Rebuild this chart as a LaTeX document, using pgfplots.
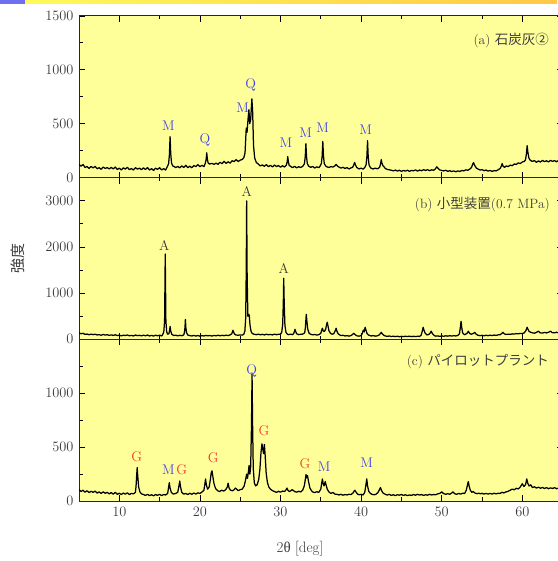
\documentclass[border=0pt]{standalone}
\usepackage{pgfplots}
\pgfplotsset{compat=1.18}
\usepackage{fontspec}
\newfontfamily\cjk{Noto Sans CJK JP}
\newfontfamily\lserif{Liberation Serif}
\definecolor{bgyellow}{RGB}{255,255,153}
\definecolor{mblue}{RGB}{65,65,235}
\definecolor{gred}{RGB}{240,60,45}
\definecolor{agray}{RGB}{55,55,55}
\definecolor{tgray}{RGB}{60,60,60}
\definecolor{barblue}{RGB}{110,110,240}
\definecolor{baryel}{RGB}{255,250,90}
\definecolor{barorg}{RGB}{255,200,70}
\tikzset{
  mlab/.style={text=mblue, font=\fontsize{14}{16}\selectfont, inner sep=0pt},
  glab/.style={text=gred, font=\fontsize{14}{16}\selectfont, inner sep=0pt},
  alab/.style={text=agray, font=\fontsize{14}{16}\selectfont, inner sep=0pt},
  ttl/.style={text=tgray, anchor=east, inner sep=0pt, font=\fontsize{13.5}{16}\selectfont},
  xrdline/.style={black, mark=none, line width=1.25pt, line join=round},
}
\pgfplotsset{
  /pgf/number format/1000 sep={},
  xrd/.style={
    scale only axis, width=483.6pt, height=161.7pt,
    xmin=5, xmax=65,
    axis background/.style={fill=bgyellow},
    tick align=inside,
    xtick={10,20,...,60}, minor xtick={5,15,...,65},
    major tick length=6pt, minor tick length=3.5pt,
    tick style={line width=0.7pt, black},
    axis line style={line width=0.9pt, black!85},
    ticklabel style={font=\fontsize{14}{16}\selectfont, text=tgray},
    yticklabel style={xshift=-2pt},
    xticklabel style={yshift=-3pt},
    scaled y ticks=false,
  },
}
\begin{document}
\begin{tikzpicture}
% decorative bar
\fill[barblue] (0pt,557pt) rectangle (25pt,561pt);
\shade[left color=baryel, right color=barorg] (25pt,557pt) rectangle (557pt,561pt);

% (a)
\begin{axis}[xrd, at={(79pt,383.4pt)}, ymin=0, ymax=1500,
  ytick={0,500,1000,1500}, minor ytick={250,750,1250}, xticklabels={}]
\addplot[xrdline] coordinates {(5.00,124)(5.25,106)(5.50,121)(5.75,94)(6.00,103)(6.25,85)(6.50,103)(6.75,90)(7.00,104)(7.25,82)(7.50,92)(7.75,77)(8.00,98)(8.25,85)(8.50,93)(8.75,80)(9.00,95)(9.25,80)(9.50,98)(9.75,75)(10.00,87)(10.25,71)(10.50,91)(10.75,79)(11.00,95)(11.25,74)(11.50,84)(11.75,70)(12.00,92)(12.25,79)(12.50,87)(12.75,74)(13.00,90)(13.25,75)(13.50,93)(13.75,70)(14.00,83)(14.25,67)(14.50,87)(14.75,76)(15.00,92)(15.25,71)(15.50,83)(15.75,70)(15.95,100)(16.12,129)(16.22,218)(16.30,380)(16.38,222)(16.48,135)(16.65,106)(16.75,105)(17.00,93)(17.25,103)(17.50,91)(17.75,108)(18.00,94)(18.25,114)(18.50,92)(18.75,106)(19.00,91)(19.25,112)(19.50,102)(19.75,120)(20.00,101)(20.25,114)(20.50,102)(20.67,133)(20.77,167)(20.85,230)(20.93,168)(21.03,135)(21.20,126)(21.50,132)(21.75,122)(22.00,134)(22.25,123)(22.50,142)(22.75,129)(23.00,151)(23.25,131)(23.50,147)(23.75,134)(24.00,157)(24.25,148)(24.50,167)(24.75,149)(25.00,162)(25.25,168)(25.45,185)(25.60,230)(25.75,460)(25.85,420)(25.97,540)(26.08,630)(26.18,500)(26.30,540)(26.45,731)(26.55,600)(26.65,300)(26.80,180)(27.00,140)(27.25,125)(27.50,108)(27.75,118)(28.00,104)(28.25,121)(28.50,101)(28.75,114)(29.00,99)(29.25,117)(29.50,103)(29.75,112)(30.00,96)(30.25,110)(30.50,98)(30.72,115)(30.82,143)(30.90,195)(30.98,143)(31.08,113)(31.25,104)(31.50,92)(31.75,105)(32.00,90)(32.25,101)(32.50,94)(32.75,104)(32.97,128)(33.07,194)(33.15,315)(33.23,194)(33.33,128)(33.50,106)(33.75,95)(34.00,103)(34.25,89)(34.50,100)(34.75,92)(34.90,105)(35.07,130)(35.17,202)(35.25,335)(35.33,200)(35.43,130)(35.60,108)(35.75,100)(36.00,94)(36.25,102)(36.50,98)(36.70,106)(36.90,122)(37.10,105)(37.25,98)(37.50,88)(37.75,96)(38.00,84)(38.25,93)(38.50,80)(38.75,90)(38.95,95)(39.10,120)(39.20,140)(39.30,118)(39.45,94)(39.75,80)(40.00,88)(40.25,78)(40.45,93)(40.62,120)(40.72,198)(40.80,343)(40.88,196)(40.98,120)(41.15,94)(41.25,86)(41.50,80)(41.75,88)(42.00,82)(42.15,86)(42.32,100)(42.42,130)(42.50,167)(42.58,135)(42.70,112)(42.90,95)(43.00,84)(43.25,76)(43.50,72)(43.75,68)(44.00,62)(44.25,70)(44.50,60)(44.75,68)(45.00,58)(45.25,66)(45.50,60)(45.75,69)(46.00,57)(46.25,67)(46.50,62)(46.75,72)(47.00,60)(47.25,70)(47.50,64)(47.75,73)(48.00,66)(48.25,74)(48.50,64)(48.75,72)(49.00,68)(49.20,80)(49.40,100)(49.55,86)(49.75,72)(50.00,66)(50.25,62)(50.50,68)(50.75,58)(51.00,64)(51.25,56)(51.50,62)(51.75,54)(52.00,62)(52.25,57)(52.50,66)(52.75,62)(53.00,72)(53.25,68)(53.50,80)(53.70,95)(53.85,125)(53.95,139)(54.10,112)(54.30,88)(54.50,80)(54.75,70)(55.00,74)(55.25,64)(55.50,70)(55.75,60)(56.00,66)(56.25,58)(56.50,64)(56.75,62)(57.00,72)(57.25,85)(57.42,110)(57.50,130)(57.62,105)(57.80,95)(58.00,108)(58.25,102)(58.50,116)(58.75,110)(59.00,126)(59.25,122)(59.50,136)(59.75,130)(60.00,145)(60.25,150)(60.40,165)(60.50,215)(60.60,296)(60.70,230)(60.82,180)(61.00,160)(61.25,150)(61.50,158)(61.75,142)(62.00,155)(62.25,144)(62.50,160)(62.75,148)(63.00,156)(63.25,145)(63.50,160)(63.75,150)(64.00,158)(64.25,146)(64.50,160)(64.75,150)(65.00,156)};
\node[mlab] at (axis cs:16.1,481) {M};
\node[mlab] at (axis cs:20.63,345) {Q};
\node[mlab] at (axis cs:25.3,645) {M};
\node[mlab] at (axis cs:26.3,861) {Q};
\node[mlab] at (axis cs:30.68,327) {M};
\node[mlab] at (axis cs:33.12,420) {M};
\node[mlab] at (axis cs:35.23,460) {M};
\node[mlab] at (axis cs:40.57,444) {M};
\node[ttl] at (rel axis cs:0.972,0.846) {(a) {\cjk 石炭灰②}};
\end{axis}

% (b)
\begin{axis}[xrd, at={(79pt,221.7pt)}, ymin=0, ymax=3500,
  ytick={0,1000,2000,3000}, minor ytick={500,1500,2500}, xticklabels={},
  ylabel={\cjk 強度},
  ylabel style={at={(axis description cs:-0.126,0.5)}, anchor=center, font=\fontsize{15}{17}\selectfont, text=tgray}]
\addplot[xrdline] coordinates {(5.00,138)(5.25,120)(5.50,130)(5.75,106)(6.00,113)(6.25,98)(6.50,112)(6.75,100)(7.00,110)(7.25,94)(7.50,100)(7.75,88)(8.00,104)(8.25,92)(8.50,99)(8.75,86)(9.00,96)(9.25,84)(9.50,98)(9.75,80)(10.00,88)(10.25,74)(10.50,90)(10.75,81)(11.00,93)(11.25,76)(11.50,84)(11.75,73)(12.00,92)(12.25,79)(12.50,86)(12.75,74)(13.00,90)(13.25,76)(13.50,92)(13.75,72)(14.00,84)(14.25,70)(14.50,88)(14.75,76)(15.00,90)(15.25,72)(15.35,90)(15.52,160)(15.62,400)(15.70,1845)(15.78,400)(15.88,160)(16.00,110)(16.15,120)(16.24,190)(16.30,280)(16.38,180)(16.50,110)(16.75,82)(17.00,88)(17.25,74)(17.50,86)(17.75,78)(18.00,95)(18.08,150)(18.15,260)(18.20,430)(18.26,250)(18.35,140)(18.50,92)(18.75,80)(19.00,72)(19.25,84)(19.50,70)(19.75,82)(20.00,68)(20.25,80)(20.50,72)(20.75,85)(21.00,74)(21.25,82)(21.50,70)(21.75,84)(22.00,75)(22.25,88)(22.50,76)(22.75,86)(23.00,78)(23.25,90)(23.50,80)(23.75,95)(23.95,120)(24.05,165)(24.10,195)(24.18,160)(24.30,110)(24.50,92)(24.75,88)(25.00,95)(25.25,90)(25.45,110)(25.58,180)(25.68,450)(25.75,1500)(25.80,2995)(25.86,1400)(25.95,500)(26.05,540)(26.12,520)(26.22,300)(26.35,170)(26.50,125)(26.75,108)(27.00,100)(27.25,112)(27.50,96)(27.75,108)(28.00,94)(28.25,110)(28.50,98)(28.75,106)(29.00,95)(29.25,112)(29.50,100)(29.75,108)(30.00,110)(30.15,150)(30.27,320)(30.35,800)(30.40,1320)(30.46,780)(30.55,300)(30.68,150)(30.85,110)(31.00,100)(31.25,112)(31.50,100)(31.65,130)(31.75,185)(31.80,215)(31.88,170)(32.00,120)(32.25,100)(32.50,108)(32.75,112)(33.00,140)(33.08,240)(33.15,420)(33.20,540)(33.27,400)(33.38,220)(33.55,130)(33.75,108)(34.00,96)(34.25,104)(34.50,92)(34.75,100)(35.00,130)(35.10,190)(35.20,240)(35.30,180)(35.45,170)(35.60,220)(35.72,320)(35.80,370)(35.88,300)(36.00,190)(36.20,130)(36.40,110)(36.60,120)(36.78,180)(36.90,240)(37.00,175)(37.15,120)(37.35,95)(37.50,80)(37.75,88)(38.00,72)(38.25,80)(38.50,68)(38.75,82)(38.95,105)(39.10,130)(39.25,100)(39.50,74)(39.75,68)(40.00,80)(40.15,130)(40.28,200)(40.38,160)(40.50,260)(40.60,200)(40.75,120)(40.95,90)(41.25,72)(41.50,80)(41.75,68)(42.00,75)(42.25,95)(42.40,125)(42.50,150)(42.62,118)(42.80,90)(43.00,72)(43.25,64)(43.50,72)(43.75,60)(44.00,68)(44.25,58)(44.50,66)(44.75,56)(45.00,64)(45.25,58)(45.50,66)(45.75,60)(46.00,68)(46.25,57)(46.50,65)(46.75,58)(47.00,66)(47.25,62)(47.45,90)(47.58,170)(47.70,260)(47.80,200)(47.95,130)(48.15,95)(48.35,100)(48.55,130)(48.70,175)(48.85,120)(49.05,85)(49.25,68)(49.50,74)(49.75,64)(50.00,72)(50.25,66)(50.50,76)(50.75,68)(51.00,78)(51.25,70)(51.50,80)(51.75,72)(52.00,84)(52.20,120)(52.30,240)(52.40,390)(52.48,260)(52.60,140)(52.80,100)(53.00,110)(53.18,140)(53.30,175)(53.45,130)(53.65,110)(53.85,120)(54.00,135)(54.10,150)(54.25,115)(54.45,90)(54.75,78)(55.00,86)(55.25,76)(55.50,88)(55.75,78)(56.00,90)(56.25,80)(56.50,92)(56.75,84)(57.00,96)(57.25,100)(57.45,125)(57.60,150)(57.75,120)(57.95,105)(58.25,112)(58.50,106)(58.75,118)(59.00,112)(59.25,124)(59.50,118)(59.75,128)(60.00,125)(60.25,140)(60.45,190)(60.60,260)(60.72,210)(60.85,170)(61.05,150)(61.25,140)(61.50,132)(61.75,150)(62.00,175)(62.20,140)(62.50,135)(62.75,150)(63.00,138)(63.25,152)(63.50,175)(63.70,145)(64.00,140)(64.25,152)(64.50,138)(64.75,150)(65.00,142)};
\node[alab] at (axis cs:15.59,2040) {A};
\node[alab] at (axis cs:25.8,3197) {A};
\node[alab] at (axis cs:30.4,1534) {A};
\node[ttl] at (rel axis cs:0.974,0.832) {(b) {\cjk 小型装置}(0.7 MPa)};
\end{axis}

% (c)
\begin{axis}[xrd, at={(79pt,60pt)}, ymin=0, ymax=1500,
  ytick={0,500,1000}, minor ytick={250,750,1250,1500},
  xlabel={2{\lserif θ} [deg]},
  xlabel style={at={(axis description cs:0.457,-0.297)}, anchor=center, font=\fontsize{15}{17}\selectfont, text=tgray}]
\addplot[xrdline] coordinates {(5.00,105)(5.25,88)(5.50,100)(5.75,82)(6.00,95)(6.25,78)(6.50,90)(6.75,80)(7.00,92)(7.25,74)(7.50,84)(7.75,70)(8.00,85)(8.25,72)(8.50,80)(8.75,66)(9.00,78)(9.25,64)(9.50,80)(9.75,62)(10.00,72)(10.25,60)(10.50,74)(10.75,63)(11.00,76)(11.25,60)(11.50,70)(11.75,66)(12.00,80)(12.08,140)(12.15,230)(12.22,310)(12.30,220)(12.40,130)(12.55,85)(12.75,66)(13.00,60)(13.25,52)(13.50,62)(13.75,50)(14.00,58)(14.25,48)(14.50,60)(14.75,52)(15.00,62)(15.25,50)(15.50,60)(15.75,56)(16.00,70)(16.10,120)(16.20,170)(16.30,120)(16.45,80)(16.70,64)(17.00,70)(17.25,80)(17.40,140)(17.50,185)(17.60,130)(17.75,80)(18.00,64)(18.25,70)(18.50,60)(18.75,72)(19.00,62)(19.25,74)(19.50,64)(19.75,76)(20.00,70)(20.25,82)(20.50,100)(20.62,160)(20.70,205)(20.80,150)(20.95,110)(21.15,130)(21.30,200)(21.40,260)(21.50,280)(21.60,230)(21.75,160)(21.95,115)(22.20,95)(22.45,88)(22.70,100)(22.95,92)(23.20,105)(23.40,130)(23.50,165)(23.62,120)(23.80,100)(24.05,95)(24.25,105)(24.40,120)(24.55,110)(24.75,96)(25.00,105)(25.25,110)(25.50,140)(25.65,190)(25.80,250)(25.90,210)(26.00,260)(26.10,330)(26.20,250)(26.30,320)(26.40,700)(26.47,1180)(26.54,700)(26.62,300)(26.75,170)(26.90,140)(27.10,150)(27.30,200)(27.45,300)(27.58,450)(27.70,530)(27.80,480)(27.90,440)(28.00,525)(28.10,420)(28.22,260)(28.38,170)(28.55,130)(28.75,110)(29.00,96)(29.25,88)(29.50,80)(29.75,90)(30.00,82)(30.25,92)(30.50,88)(30.70,105)(30.80,120)(30.92,100)(31.10,88)(31.30,96)(31.45,105)(31.55,100)(31.75,88)(32.00,82)(32.25,90)(32.50,84)(32.75,100)(32.95,140)(33.08,200)(33.17,245)(33.25,215)(33.35,235)(33.48,180)(33.65,120)(33.85,95)(34.00,84)(34.25,78)(34.50,86)(34.75,80)(35.00,110)(35.10,160)(35.20,205)(35.30,160)(35.40,140)(35.55,180)(35.65,150)(35.80,110)(36.00,85)(36.25,70)(36.50,80)(36.75,64)(37.00,62)(37.25,56)(37.50,62)(37.75,54)(38.00,60)(38.25,56)(38.50,62)(38.75,60)(39.00,75)(39.10,88)(39.22,100)(39.35,85)(39.55,64)(39.75,58)(40.00,62)(40.25,56)(40.45,80)(40.58,140)(40.70,205)(40.80,140)(40.95,90)(41.15,70)(41.35,62)(41.60,58)(41.85,62)(42.10,80)(42.28,105)(42.40,125)(42.55,95)(42.75,72)(43.00,62)(43.25,55)(43.50,62)(43.75,52)(44.00,58)(44.25,50)(44.50,58)(44.75,54)(45.00,60)(45.25,52)(45.50,58)(45.75,50)(46.00,56)(46.25,52)(46.50,60)(46.75,54)(47.00,62)(47.25,55)(47.50,60)(47.75,52)(48.00,58)(48.25,54)(48.50,62)(48.75,56)(49.00,60)(49.25,58)(49.50,66)(49.75,70)(50.00,85)(50.20,70)(50.50,62)(50.75,68)(51.00,62)(51.20,72)(51.40,85)(51.60,68)(51.85,62)(52.10,70)(52.35,64)(52.60,72)(52.85,70)(53.05,100)(53.20,150)(53.30,180)(53.40,140)(53.55,100)(53.75,80)(53.90,90)(54.10,75)(54.35,68)(54.60,72)(54.85,66)(55.00,72)(55.20,64)(55.50,70)(55.75,64)(56.00,70)(56.25,64)(56.50,72)(56.75,66)(57.00,72)(57.25,70)(57.50,82)(57.70,74)(58.00,85)(58.25,90)(58.50,100)(58.75,110)(59.00,104)(59.25,118)(59.50,112)(59.75,130)(60.00,160)(60.20,135)(60.40,150)(60.55,205)(60.70,160)(60.85,140)(61.05,150)(61.25,125)(61.50,132)(61.75,120)(62.00,128)(62.25,118)(62.50,126)(62.75,116)(63.00,124)(63.25,114)(63.50,122)(63.75,116)(64.00,124)(64.25,114)(64.50,120)(64.75,115)(65.00,120)};
\node[glab] at (axis cs:12.16,411) {G};
\node[mlab] at (axis cs:16.08,293) {M};
\node[glab] at (axis cs:17.74,293) {G};
\node[glab] at (axis cs:21.67,399) {G};
\node[mlab] at (axis cs:26.42,1209) {Q};
\node[glab] at (axis cs:27.95,648) {G};
\node[glab] at (axis cs:33.04,343) {G};
\node[mlab] at (axis cs:35.4,318) {M};
\node[mlab] at (axis cs:40.69,358) {M};
\node[ttl] at (rel axis cs:0.972,0.863) {(c) {\cjk パイロットプラント}};
\end{axis}
\pgfresetboundingbox
\path[use as bounding box] (0pt,0pt) rectangle (557pt,561pt);
\end{tikzpicture}
\end{document}
